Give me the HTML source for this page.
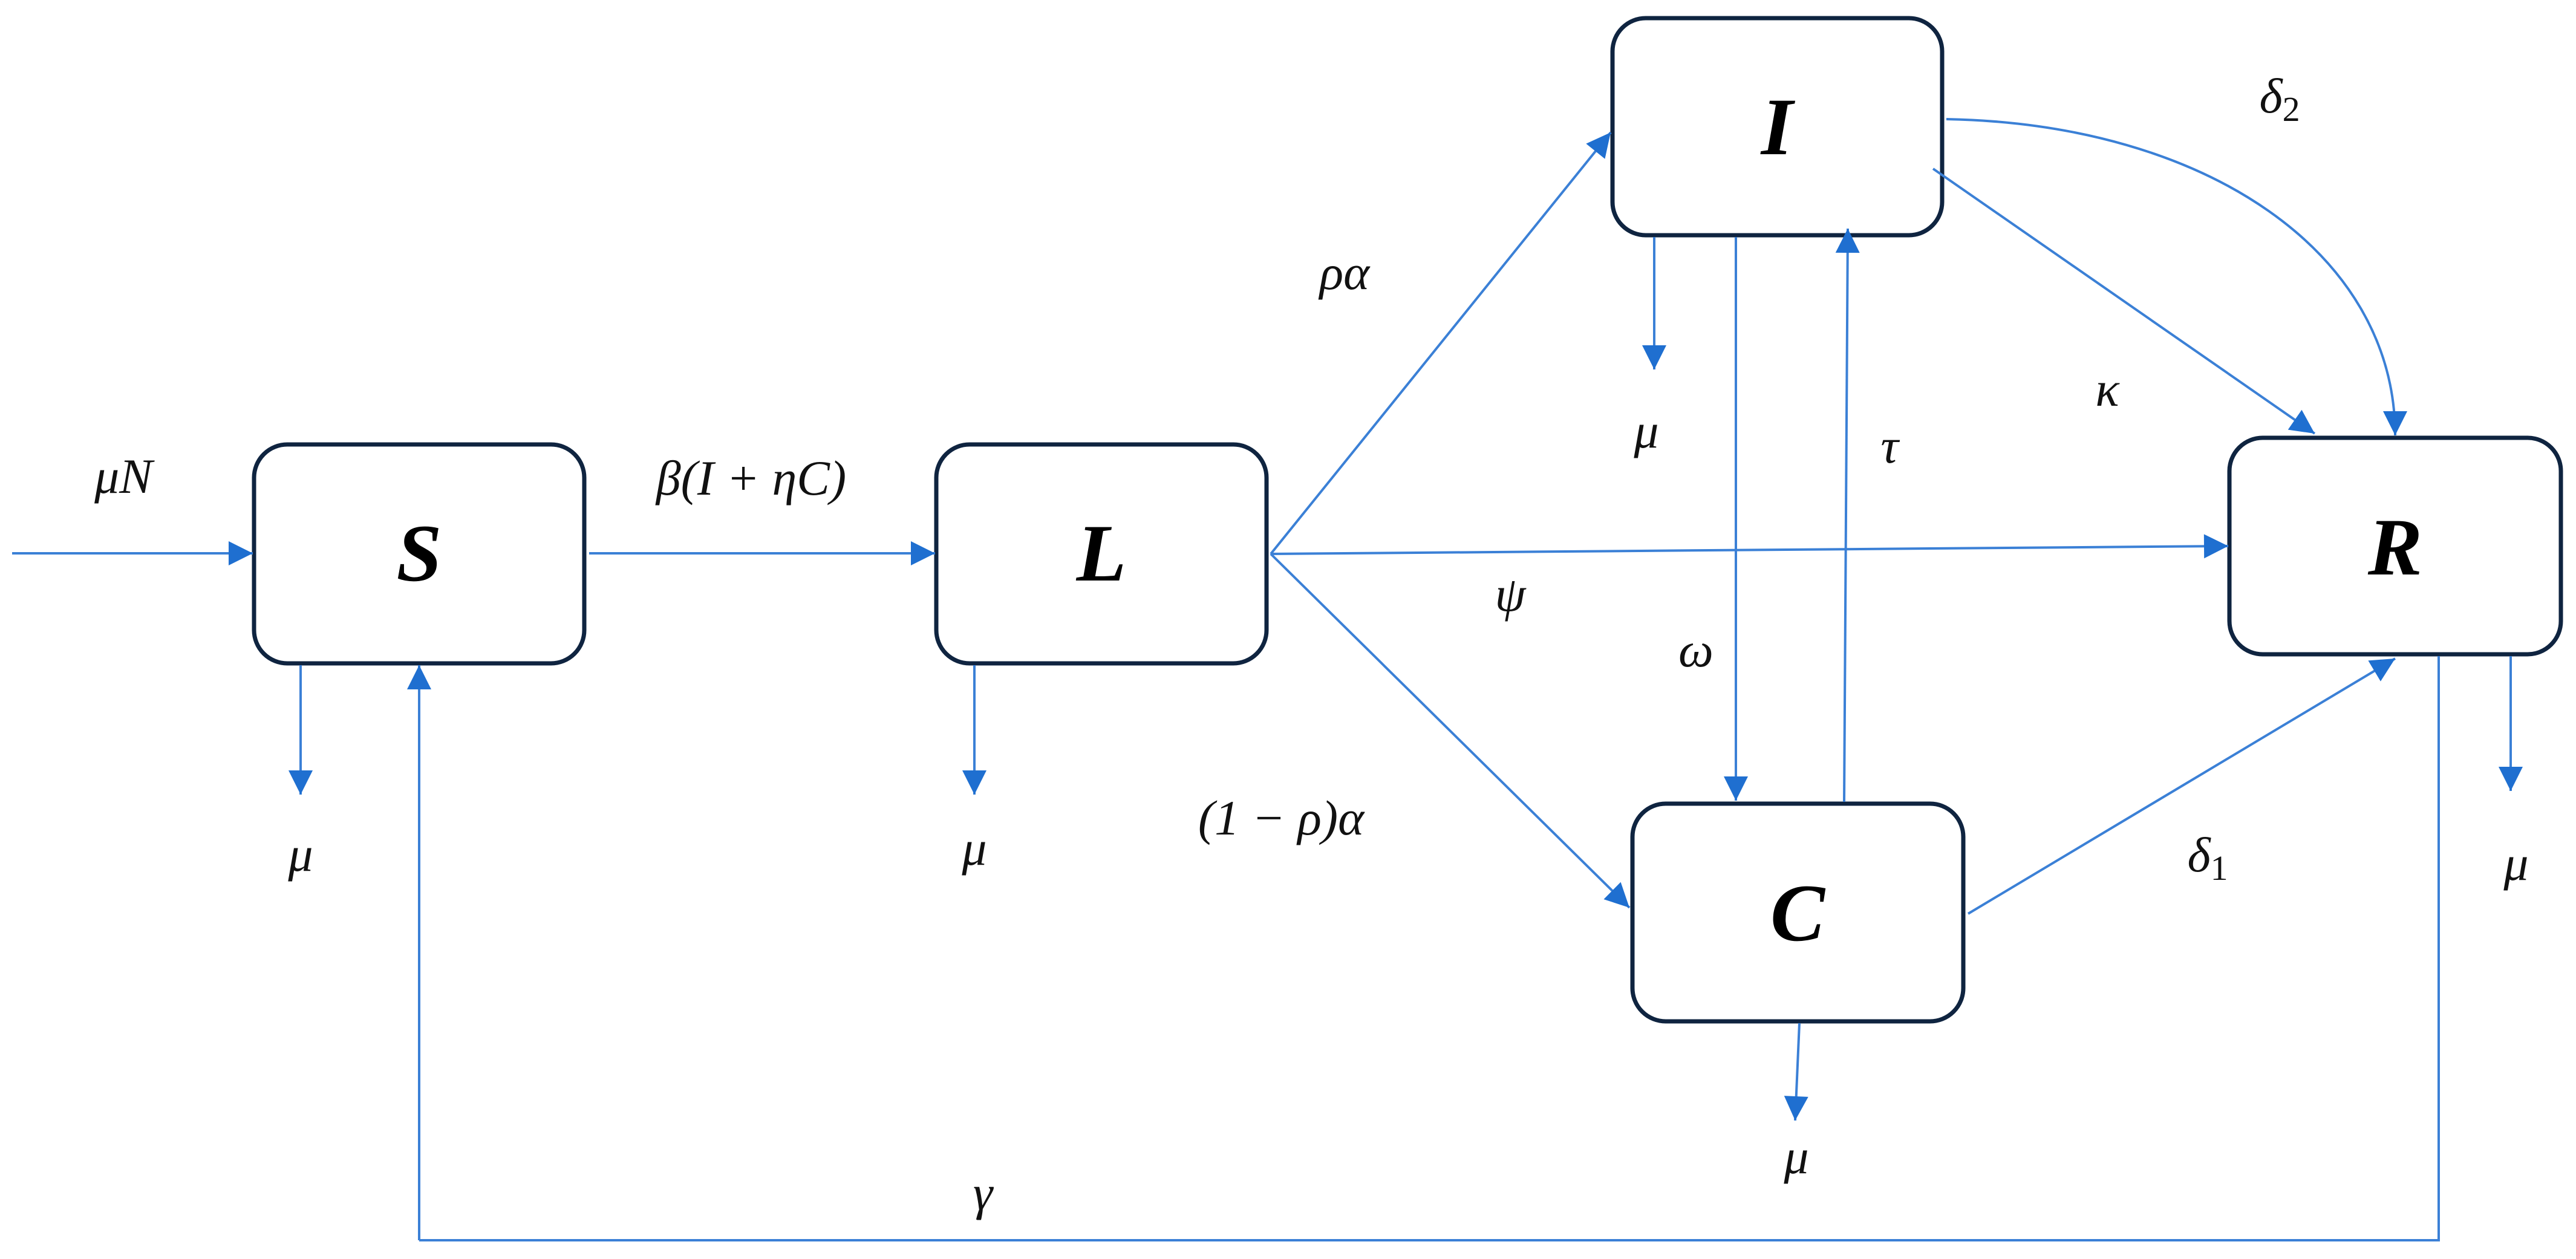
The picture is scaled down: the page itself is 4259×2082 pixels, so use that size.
<!DOCTYPE html>
<html><head><meta charset="utf-8"><style>
html,body{margin:0;padding:0;background:#fff;}
svg{display:block}
.b{fill:#fff;stroke:#0f2440;stroke-width:7}
.l{stroke:#3b80d6;stroke-width:4;fill:none}
.t{font-family:"Liberation Serif",serif;font-style:italic;font-size:82px;fill:#111;text-anchor:middle}
.n{font-family:"Liberation Serif",serif;font-style:italic;font-weight:bold;font-size:135px;fill:#000;text-anchor:middle}
</style></head><body>
<svg width="4259" height="2082" viewBox="0 0 4259 2082" xmlns="http://www.w3.org/2000/svg">
<defs>
<marker id="a" markerWidth="12" markerHeight="10" refX="11" refY="5" orient="auto" markerUnits="userSpaceOnUse" viewBox="0 0 12 10" style="overflow:visible">
</marker>
<marker id="h" viewBox="0 0 10 10" refX="10" refY="5" markerWidth="44" markerHeight="40" markerUnits="userSpaceOnUse" orient="auto"><path d="M0,0 L10,5 L0,10 z" fill="#1f6fd0"/></marker>
</defs>
<!-- boxes -->
<rect class="b" x="420" y="735" width="546" height="362" rx="55"/>
<rect class="b" x="1548" y="735" width="546" height="362" rx="55"/>
<rect class="b" x="2666" y="30" width="545" height="359" rx="55"/>
<rect class="b" x="2699" y="1329" width="547" height="360" rx="55"/>
<rect class="b" x="3686" y="724" width="548" height="358" rx="55"/>
<text class="n" x="693" y="960">S</text>
<text class="n" x="1821" y="960">L</text>
<text class="n" x="2938" y="255">I</text>
<text class="n" x="2972" y="1555">C</text>
<text class="n" x="3960" y="950">R</text>
<!-- connectors -->
<g class="l" marker-end="url(#h)">
<line x1="20" y1="915" x2="418" y2="915"/>
<line x1="974" y1="915" x2="1546" y2="915"/>
<line x1="497" y1="1100" x2="497" y2="1314"/>
<line x1="1611" y1="1100" x2="1611" y2="1314"/>
<line x1="693" y1="2051" x2="693" y2="1100"/>
<line x1="2101" y1="916" x2="2663" y2="219"/>
<line x1="2101" y1="916" x2="3684" y2="903"/>
<line x1="2101" y1="916" x2="2694" y2="1501"/>
<line x1="2735" y1="392" x2="2735" y2="611"/>
<line x1="2870" y1="392" x2="2870" y2="1324"/>
<line x1="3049" y1="1326" x2="3055" y2="378"/>
<line x1="3196" y1="279" x2="3827" y2="717"/>
<path d="M3218,197 C3650,205 3960,420 3960,720"/>
<line x1="3254" y1="1511" x2="3960" y2="1089"/>
<line x1="2975" y1="1692" x2="2968" y2="1853"/>
<line x1="4151" y1="1085" x2="4151" y2="1308"/>
</g>
<polyline class="l" points="4032,1085 4032,2051 693,2051"/>
<!-- labels -->
<text class="t" x="204" y="815">μN</text>
<text class="t" x="1242" y="818">β(I + ηC)</text>
<text class="t" x="497" y="1440">μ</text>
<text class="t" x="1611" y="1430">μ</text>
<text class="t" x="1625" y="2000">γ</text>
<text class="t" x="2118" y="1380">(1 − ρ)α</text>
<text class="t" x="2223" y="478">ρα</text>
<text class="t" x="2497" y="1010">ψ</text>
<text class="t" x="2722" y="740">μ</text>
<text class="t" x="2804" y="1102">ω</text>
<text class="t" x="3124" y="765">τ</text>
<text class="t" x="3484" y="671">κ</text>
<text class="t" x="3769" y="186">δ<tspan font-size="58" dy="14" font-style="normal">2</tspan></text>
<text class="t" x="3650" y="1441">δ<tspan font-size="58" dy="14" font-style="normal">1</tspan></text>
<text class="t" x="2970" y="1940">μ</text>
<text class="t" x="4160" y="1455">μ</text>
</svg>
</body></html>
